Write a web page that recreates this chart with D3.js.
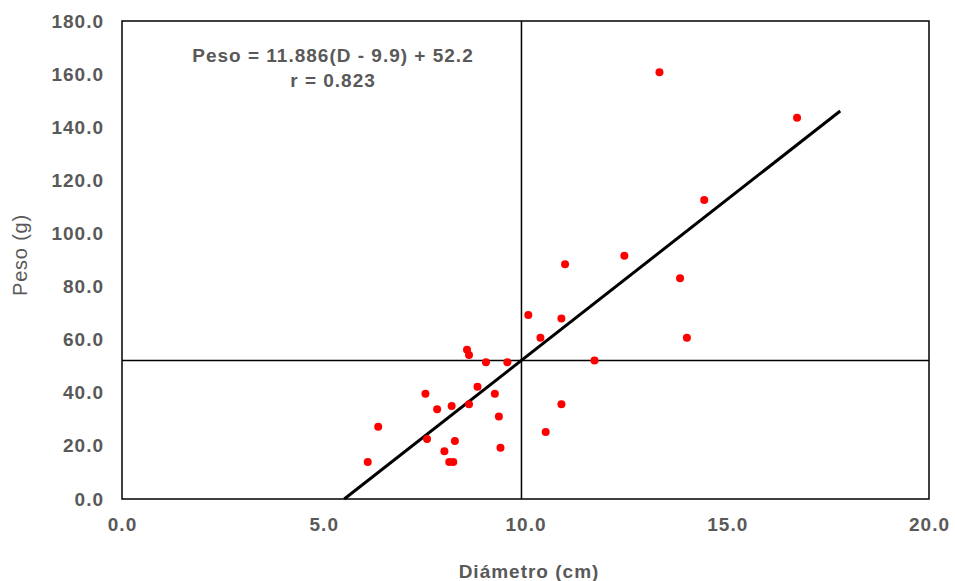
<!DOCTYPE html>
<html>
<head>
<meta charset="utf-8">
<script src="https://cdn.jsdelivr.net/npm/d3@7"></script>
<style>
  html, body { margin: 0; padding: 0; background: #fff; }
  svg { display: block; font-family: "Liberation Sans", Arial, sans-serif; }
</style>
</head>
<body>
<svg id="chart" width="955" height="581"></svg>
<script>
// Diameter (cm) and weight (g) of each specimen
const diametro = [10.07, 10.89, 10.37, 8.55, 8.60, 9.02, 9.55, 11.71, 8.81, 7.52, 9.24,
                  7.81, 8.17, 8.60, 9.34, 10.89, 6.35, 7.56, 8.25, 10.50, 7.99, 9.38,
                  8.11, 8.21, 6.09, 13.32, 16.73, 14.43, 12.45, 10.98, 13.83, 14.00];
const peso     = [69.3, 68.0, 60.7, 56.2, 54.2, 51.5, 51.5, 52.2, 42.3, 39.6, 39.6,
                  33.8, 35.0, 35.7, 31.1, 35.7, 27.2, 22.6, 21.8, 25.2, 18.0, 19.3,
                  13.9, 13.9, 13.9, 160.7, 143.6, 112.6, 91.6, 88.4, 83.1, 60.7];

// Fitted line: Peso = b (D - meanD) + meanP
const pendiente = 11.886;
const mediaD = 9.9;
const mediaP = 52.2;
const rCorr = 0.823;
const rectaD = [mediaD - mediaP / pendiente, 17.8];

const xTicks = [0, 5, 10, 15, 20];
const yTicks = [0, 20, 40, 60, 80, 100, 120, 140, 160, 180];

const plotL = 122, plotR = 929, plotT = 21, plotB = 499;
const svg = d3.select("#chart");
const x = d3.scaleLinear().domain([0, 20]).range([plotL, plotR]);
const y = d3.scaleLinear().domain([0, 180]).range([plotB, plotT]);
const grey = "#595959";

// Axis tick labels
const xAxis = d3.axisBottom(x).tickValues(xTicks).tickFormat(d3.format(".1f")).tickSize(0).tickPadding(19);
const yAxis = d3.axisLeft(y).tickValues(yTicks).tickFormat(d3.format(".1f")).tickSize(0).tickPadding(18);

const gx = svg.append("g").attr("transform", `translate(0,${plotB})`).call(xAxis);
const gy = svg.append("g").attr("transform", `translate(${plotL},0)`).call(yAxis);
[gx, gy].forEach(g => {
  g.select(".domain").remove();
  g.selectAll("text").attr("fill", grey).attr("font-size", 19).attr("font-weight", "bold")
    .attr("letter-spacing", 1).attr("font-family", "Liberation Sans, Arial, sans-serif");
});

// Plot frame
svg.append("rect").attr("x", plotL).attr("y", plotT)
  .attr("width", plotR - plotL).attr("height", plotB - plotT)
  .attr("fill", "none").attr("stroke", "#000").attr("stroke-width", 1.5);

// Mean reference lines
svg.append("line").attr("x1", x(mediaD)).attr("x2", x(mediaD)).attr("y1", plotT).attr("y2", plotB)
  .attr("stroke", "#000").attr("stroke-width", 1.5);
svg.append("line").attr("x1", plotL).attr("x2", plotR).attr("y1", y(mediaP)).attr("y2", y(mediaP))
  .attr("stroke", "#000").attr("stroke-width", 1.5);

// Regression line
const recta = d3.line().x(d => x(d)).y(d => y(pendiente * (d - mediaD) + mediaP));
svg.append("path").datum(rectaD).attr("d", recta)
  .attr("fill", "none").attr("stroke", "#000").attr("stroke-width", 3);

// Observations
svg.append("g").selectAll("circle").data(d3.range(diametro.length)).join("circle")
  .attr("cx", i => x(diametro[i])).attr("cy", i => y(peso[i])).attr("r", 4)
  .attr("fill", "#ff0000");

// Equation annotation
const eq = svg.append("text").attr("x", 333).attr("y", 62).attr("text-anchor", "middle")
  .attr("fill", grey).attr("font-size", 19).attr("font-weight", "bold").attr("letter-spacing", 1);
eq.append("tspan").attr("x", 333).text(`Peso = ${pendiente}(D - ${mediaD}) + ${mediaP}`);
eq.append("tspan").attr("x", 333).attr("dy", 25).text(`r = ${rCorr}`);

// Axis titles
svg.append("text").attr("x", 529).attr("y", 578).attr("text-anchor", "middle")
  .attr("fill", grey).attr("font-size", 19).attr("font-weight", "bold").attr("letter-spacing", 1)
  .text("Diámetro (cm)");
svg.append("text").attr("transform", "translate(27,255) rotate(-90)").attr("text-anchor", "middle")
  .attr("fill", grey).attr("font-size", 20).attr("letter-spacing", 0.8).text("Peso (g)");
</script>
</body>
</html>
